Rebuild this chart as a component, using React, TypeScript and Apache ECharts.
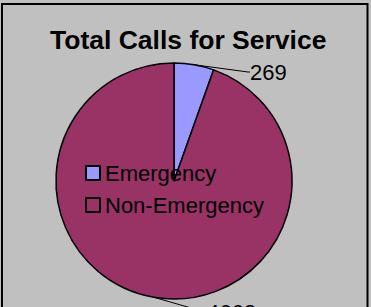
import React, { useEffect, useRef } from "react";
import * as echarts from "echarts";

const categories = ["Emergency", "Non-Emergency"];
const values = [269, 4662];
const colors = ["#9999FF", "#993366"];
const titleText = "Total Calls for Service";

const FONT = "Arial, 'Liberation Sans', sans-serif";

export default function App() {
  const ref = useRef<HTMLDivElement>(null);
  useEffect(() => {
    document.body.style.margin = "0";
    const chart = echarts.init(ref.current!, null, { renderer: "svg" });
    chart.setOption({
      animation: false,
      backgroundColor: "#C0C0C0",
      title: {
        text: titleText,
        left: 50,
        top: 26,
        padding: 0,
        textStyle: { fontSize: 26.5, fontWeight: "bold", color: "#000", fontFamily: FONT },
      },
      graphic: [
        {
          type: "rect",
          shape: { x: 2, y: 4, width: 365.5, height: 320 },
          style: { fill: "none", stroke: "#000", lineWidth: 2 },
          silent: true,
          z: 100,
        },
      ],
      legend: {
        data: categories,
        orient: "vertical",
        left: 85,
        top: 162,
        padding: 0,
        itemWidth: 14,
        itemHeight: 14,
        itemGap: 10,
        icon: "rect",
        itemStyle: { borderColor: "#000", borderWidth: 2 },
        textStyle: { fontSize: 22, color: "#000", fontFamily: FONT, lineHeight: 22 },
        selectedMode: false,
      },
      series: [
        {
          type: "pie",
          center: [174, 181],
          radius: 118,
          startAngle: 90,
          clockwise: true,
          avoidLabelOverlap: false,
          color: colors,
          itemStyle: { borderColor: "#000", borderWidth: 1.5 },
          emphasis: { disabled: true },
          label: {
            show: true,
            position: "outside",
            formatter: "{c}",
            fontSize: 22,
            color: "#000",
            fontFamily: FONT,
          },
          labelLine: {
            show: true,
            length: 10,
            length2: 2,
            lineStyle: { color: "#000", width: 1 },
          },
          labelLayout: (params: any) =>
            params.dataIndex === 0
              ? { x: 250, y: 72, align: "left", verticalAlign: "middle" }
              : { x: 207, y: 312, align: "left", verticalAlign: "middle" },
          data: categories.map((name, i) => ({ name, value: values[i] })),
        },
      ],
    });
    return () => chart.dispose();
  }, []);
  return (
    <div
      ref={ref}
      style={{ position: "absolute", left: 0, top: 0, width: 371, height: 307 }}
    />
  );
}
